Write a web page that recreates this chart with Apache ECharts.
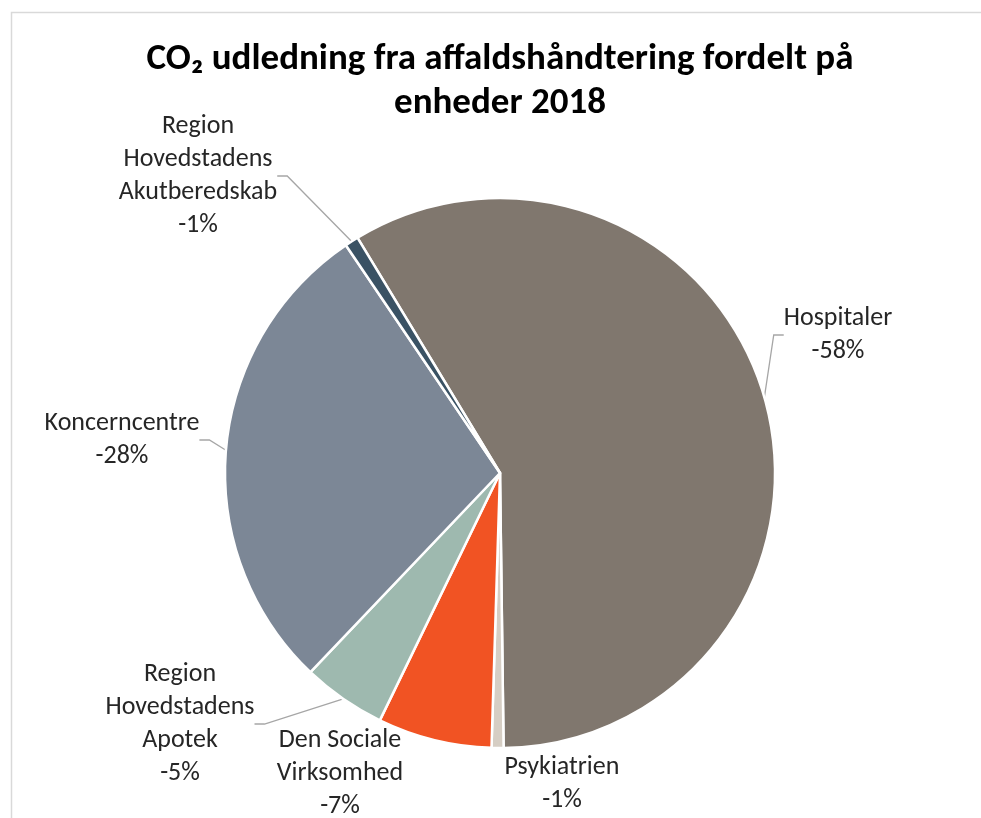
<!DOCTYPE html>
<html>
<head>
<meta charset="utf-8">
<script src="https://cdn.jsdelivr.net/npm/echarts@6/dist/echarts.min.js"></script>
<style>
html,body{margin:0;padding:0;background:#fff;}
#c{width:981px;height:818px;}
</style>
</head>
<body>
<div id="c"></div>
<script>
// Data
const categories = ["Hospitaler", "Psykiatrien", "Den Sociale\nVirksomhed", "Region\nHovedstadens\nApotek", "Koncerncentre", "Region\nHovedstadens\nAkutberedskab"];
const shares = [-58.4, -0.7, -6.7, -4.9, -28.4, -0.8];
const colors = ["#80776E", "#D6CEC4", "#F15323", "#9EB9AF", "#7C8796", "#3A5264"];
const titleText = "CO₂ udledning fra affaldshåndtering fordelt på\nenheder 2018";

// Label placement (style)
const labelPos = [[838, 335], [562, 784], [340, 773], [180, 724], [122, 440], [198, 176]];
const showLine = [true, false, false, true, true, true];

const FONT = "Carlito, Lato, 'Liberation Sans', sans-serif";
const chart = echarts.init(document.getElementById('c'));
chart.setOption({
  backgroundColor: '#fff',
  animation: false,
  graphic: [{
    type: 'rect', left: 9, top: 10, shape: {width: 1000, height: 900},
    style: {fill: 'none', stroke: '#D9D9D9', lineWidth: 1.5}, silent: true
  }],
  title: {
    text: titleText, left: 500, textAlign: 'center', top: 38, padding: 0,
    textStyle: {fontFamily: FONT, fontSize: 37, fontWeight: 'bold', color: '#000', lineHeight: 44}
  },
  series: [{
    type: 'pie',
    center: [500, 473],
    radius: [0, 275],
    startAngle: 121.2,
    clockwise: true,
    avoidLabelOverlap: false,
    itemStyle: {borderColor: '#fff', borderWidth: 2.5},
    label: {
      show: true, position: 'outside',
      fontFamily: FONT, fontSize: 26, lineHeight: 33, color: '#262626', align: 'center',
      formatter: p => p.name + '\n' + Math.round(p.data.raw) + '%'
    },
    labelLine: {show: true, lineStyle: {color: '#A6A6A6', width: 1.3}, length: 10, length2: 10},
    labelLayout: function (params) {
      const i = params.dataIndex;
      return {x: labelPos[i][0], y: labelPos[i][1], align: 'center', verticalAlign: 'middle'};
    },
    data: categories.map((n, i) => ({
      name: n, value: Math.abs(shares[i]), raw: shares[i],
      itemStyle: {color: colors[i]},
      labelLine: {show: showLine[i]}
    }))
  }]
});
</script>
</body>
</html>
